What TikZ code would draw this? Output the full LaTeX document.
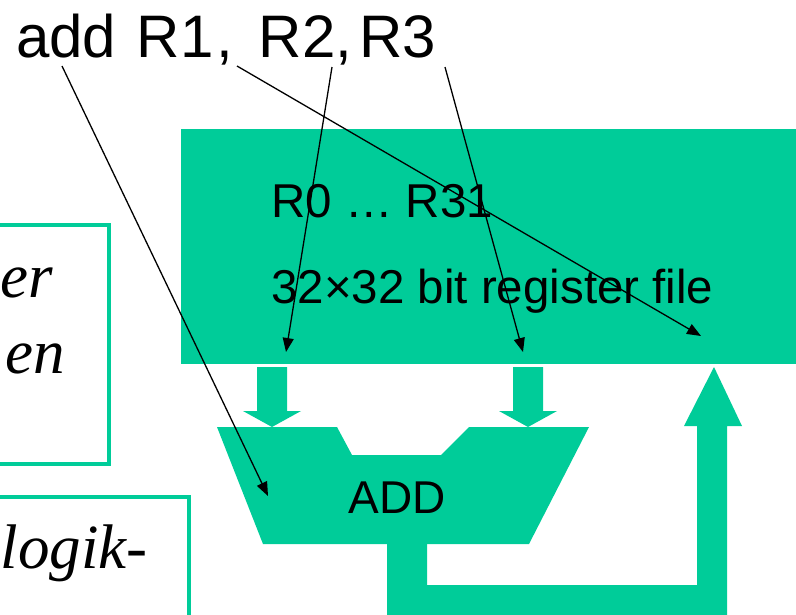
\documentclass[tikz,border=0pt]{standalone}
\usepackage{fontspec}
\setmainfont{Liberation Sans}
\newfontfamily\boxserif{Liberation Serif}
\usetikzlibrary{arrows.meta,positioning}
\definecolor{bus}{HTML}{00CC99}
\definecolor{ink}{HTML}{000000}

\begin{document}
\begin{tikzpicture}[x=1pt,y=-1pt,text=ink,regtext/.style={anchor=base west,inner sep=0pt,font=\fontsize{47.5}{50}\selectfont},sidetext/.style={anchor=base east,inner sep=0pt,font=\boxserif\itshape\fontsize{63}{66}\selectfont},sidebox/.style={draw=bus,line width=4pt},fat/.style={fill=bus,draw=none},pointer/.style={-{Triangle[length=14pt,width=11pt]},line width=1.3pt,ink}]
 \useasboundingbox (0,0) rectangle (796,614); \clip (0,0) rectangle (796,614);
 \draw[sidebox] (-20,225) rectangle (109,464); \draw[sidebox] (-20,497) rectangle (189,640);
 \node[sidetext] (er) at (53,297) {er}; \node[sidetext] (en) at (65,373) {en};
 \node[sidetext] (logik) at (148,568) {logik-};
 \node[fat,anchor=north west,minimum width=640pt,minimum height=235pt,inner sep=0pt] (regfile) at (181,129) {};
 \fill[bus] (257,367)--(287,367)--(287,411)--(301,411)--(272,427)--(243,411)--(257,411)--cycle;
 \fill[bus] (513,367)--(543,367)--(543,411)--(557,411)--(528,427)--(499,411)--(513,411)--cycle;
 \fill[bus] (217,427)--(337,427)--(352,455)--(441,455)--(469,427)--(589,427)--(529,544)--(263,544)--cycle;
 \fill[bus] (387,540)--(427,540)--(427,585)--(697,585)--(697,426)--(684,426)--(714,367)--(742,426)--(727,426)--(727,630)--(387,630)--cycle;
 \node[regtext] (rnames) at (271,217) {R0 … R31}; \node[regtext] (rsize) at (271,303) {32×32 bit register file};
 \node[anchor=base,inner sep=0pt,font=\fontsize{46}{50}\selectfont] (addlabel) at (397,513) {ADD};
 \node[anchor=base west,inner sep=0pt,font=\fontsize{60}{62}\selectfont] (instr) at (16,57) {add \kern4pt R1\kern3pt, \kern9pt R2,\kern7pt R3};
 \coordinate (opAdd) at (62,66); \coordinate (opR1) at (237,66); \coordinate (opR2) at (332,67); \coordinate (opR3) at (445,67);
 \coordinate (aluIn) at (268,496); \coordinate (wrPort) at (701,336); \coordinate (rdA) at (286,352); \coordinate (rdB) at (523,352);
 \draw[pointer] (opAdd)--(aluIn); \draw[pointer] (opR1)--(wrPort); \draw[pointer] (opR2)--(rdA); \draw[pointer] (opR3)--(rdB);
\end{tikzpicture}
\end{document}
